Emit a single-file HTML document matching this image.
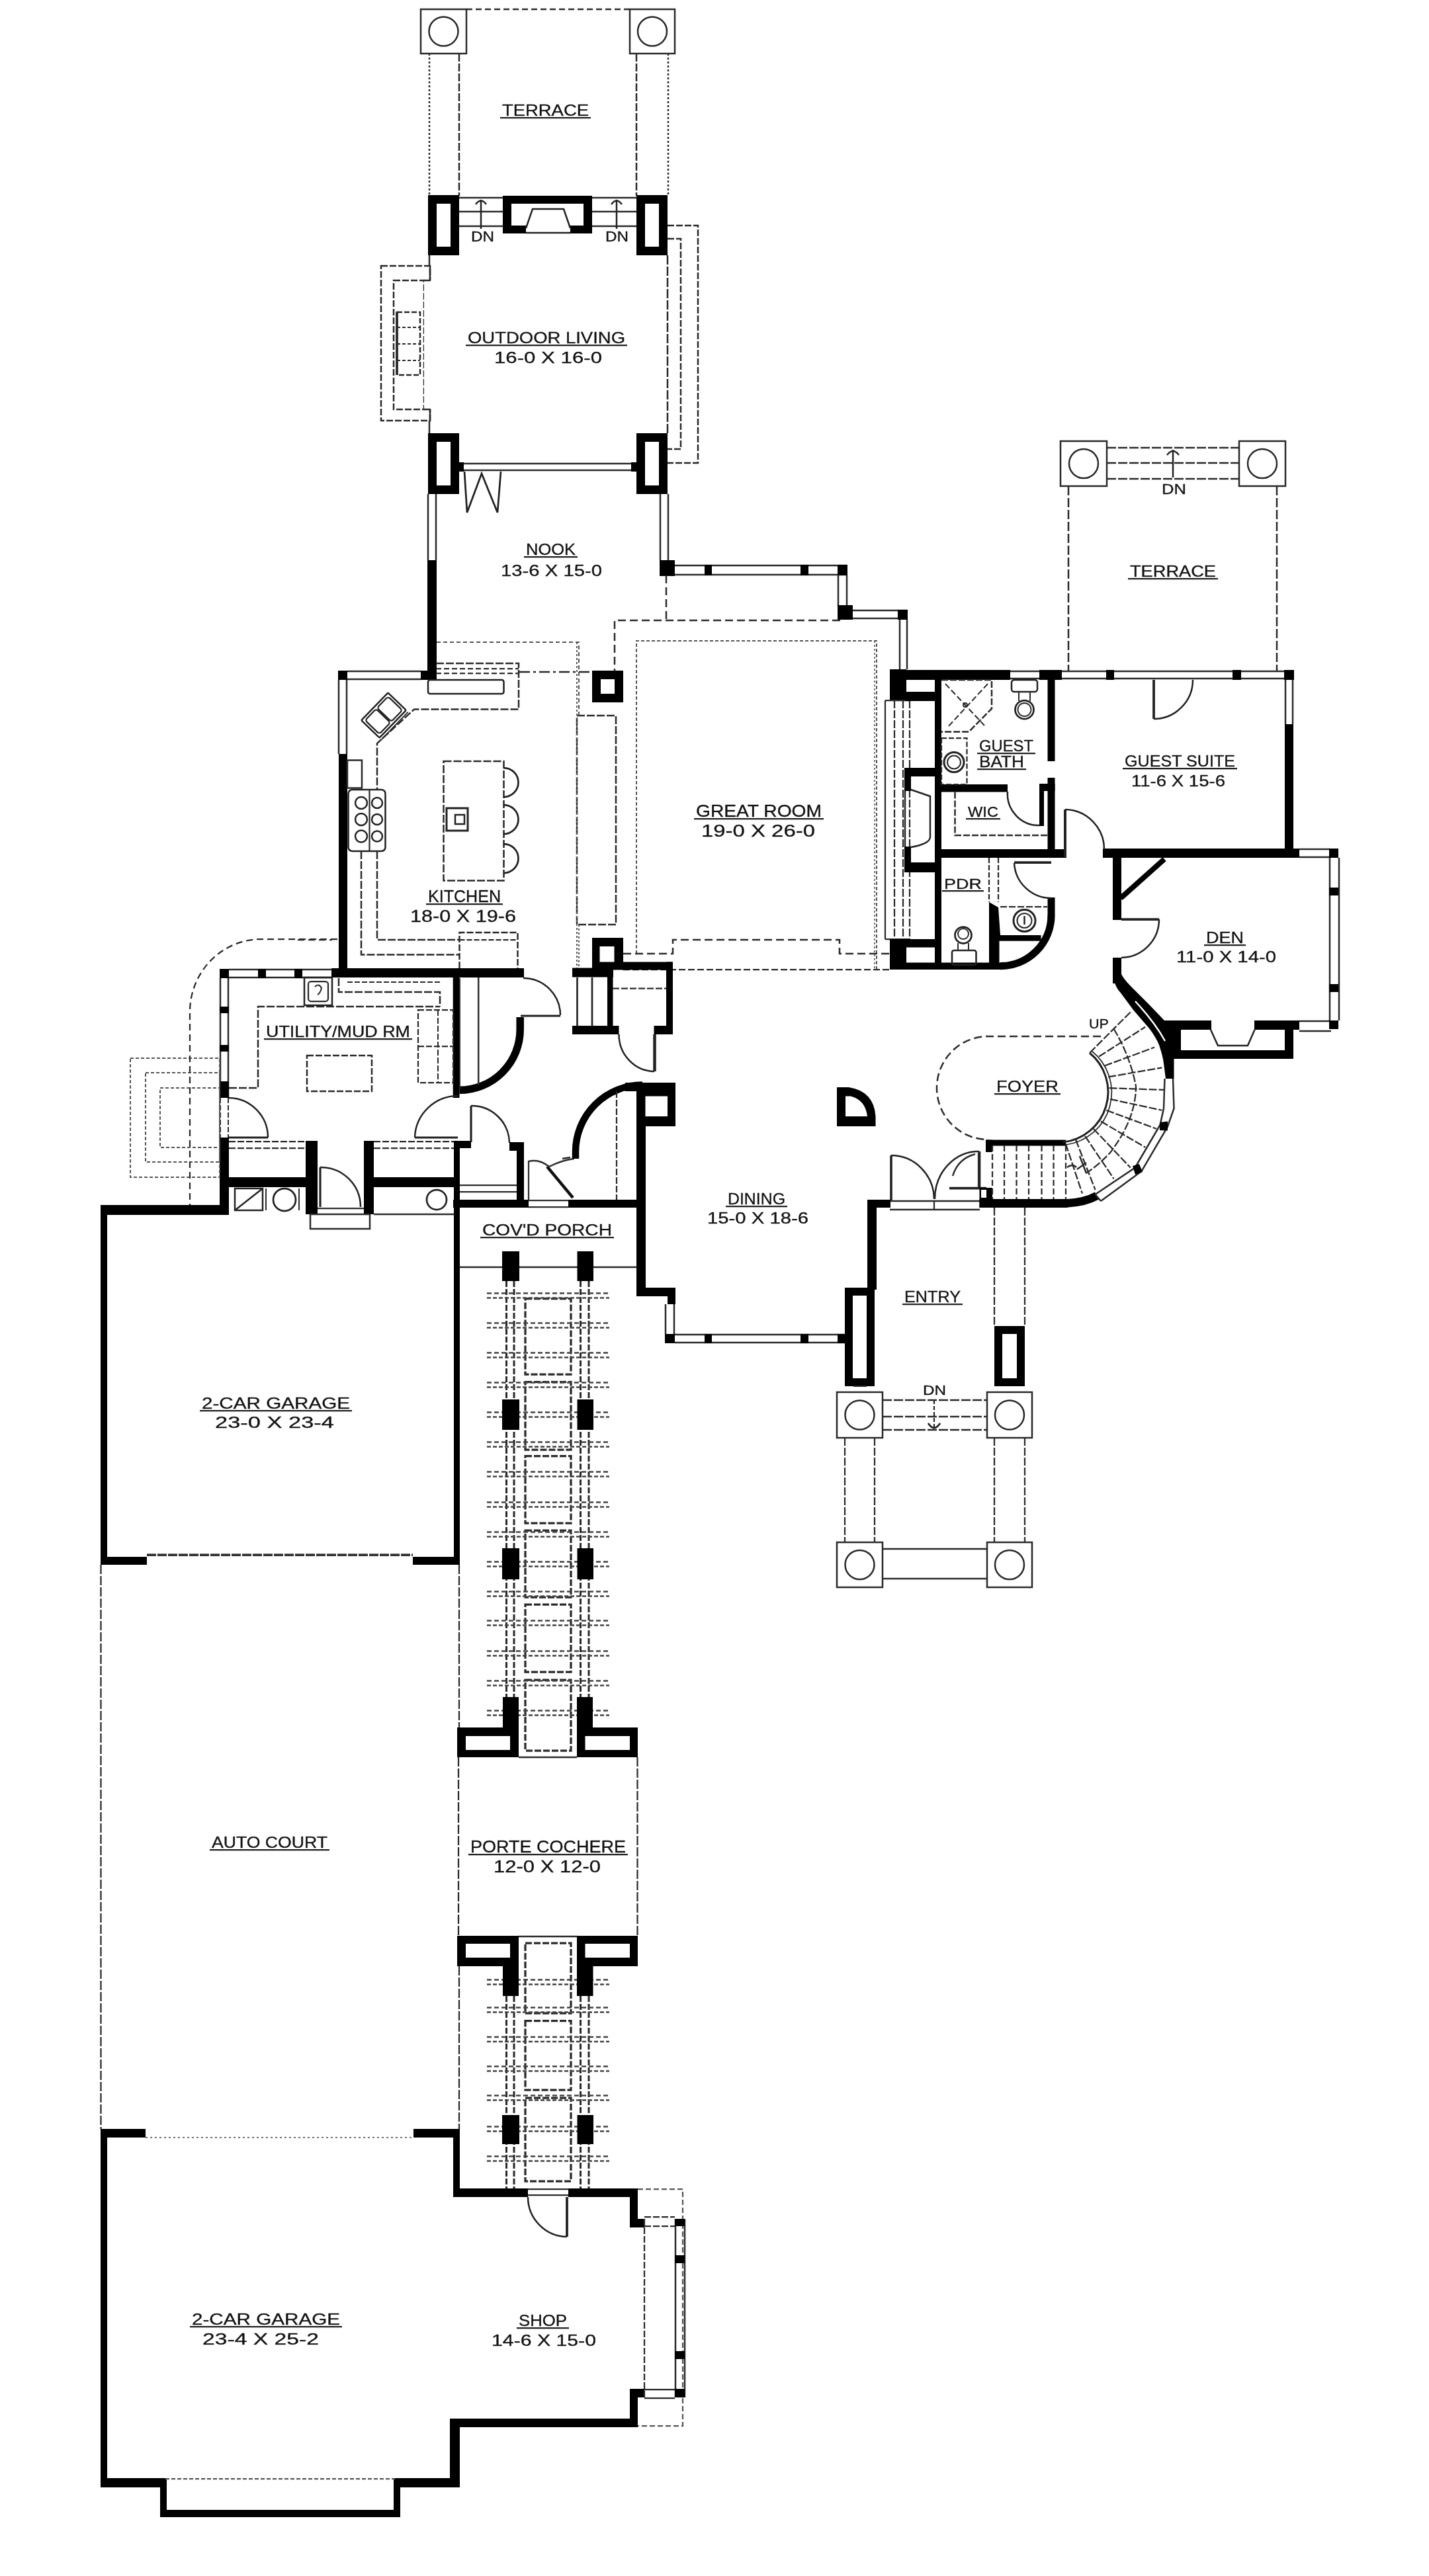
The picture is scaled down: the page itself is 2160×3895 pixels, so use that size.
<!DOCTYPE html>
<html><head><meta charset="utf-8"><title>Floor Plan</title>
<style>
html,body{margin:0;padding:0;background:#fff;}
body{width:2160px;height:3895px;overflow:hidden;font-family:"Liberation Sans",sans-serif;}
svg{display:block;filter:blur(0.7px);}
text{font-family:"Liberation Sans",sans-serif;fill:#111;}
</style></head><body>
<svg width="2160" height="3895" viewBox="0 0 2160 3895">
<rect x="0" y="0" width="2160" height="3895" fill="#fff"/>
<rect x="636" y="14" width="69" height="67" fill="none" stroke="#2a2a2a" stroke-width="2.5" rx="0"/>
<circle cx="670.5" cy="47.5" r="22" fill="none" stroke="#2a2a2a" stroke-width="2.5"/>
<rect x="952" y="14" width="68" height="67" fill="none" stroke="#2a2a2a" stroke-width="2.5" rx="0"/>
<circle cx="986" cy="47.5" r="22" fill="none" stroke="#2a2a2a" stroke-width="2.5"/>
<line x1="705" y1="14" x2="952" y2="14" stroke="#2a2a2a" stroke-width="2.5" stroke-dasharray="9 5"/>
<line x1="649" y1="81" x2="649" y2="296" stroke="#2a2a2a" stroke-width="2.5" stroke-dasharray="3 3"/>
<line x1="694" y1="81" x2="694" y2="296" stroke="#2a2a2a" stroke-width="2.5" stroke-dasharray="12 3"/>
<line x1="962" y1="81" x2="962" y2="296" stroke="#2a2a2a" stroke-width="2.5" stroke-dasharray="12 3"/>
<line x1="1010" y1="81" x2="1010" y2="296" stroke="#2a2a2a" stroke-width="2.5" stroke-dasharray="3 3"/>
<text x="759" y="174.5" font-size="23.52" textLength="131" lengthAdjust="spacingAndGlyphs" stroke="#222" stroke-width="0.35">TERRACE</text>
<line x1="756" y1="178" x2="893" y2="178" stroke="#222" stroke-width="2.25"/>
<rect x="647" y="295" width="47" height="91" fill="#000"/>
<rect x="660" y="308" width="21" height="65" fill="#fff"/>
<rect x="962" y="295" width="47" height="91" fill="#000"/>
<rect x="975" y="308" width="21" height="65" fill="#fff"/>
<rect x="760" y="296" width="135" height="57" fill="#000"/>
<rect x="773" y="308" width="109" height="33" fill="#fff"/>
<rect x="795" y="341" width="67" height="12" fill="#fff"/>
<path d="M795 345 L805 316 L852 316 L862 345" stroke="#222" stroke-width="2.5" fill="none" />
<line x1="795" y1="352" x2="862" y2="352" stroke="#222" stroke-width="2.5"/>
<line x1="694" y1="299" x2="760" y2="299" stroke="#2a2a2a" stroke-width="2.5"/>
<line x1="895" y1="299" x2="962" y2="299" stroke="#2a2a2a" stroke-width="2.5"/>
<line x1="694" y1="320" x2="760" y2="320" stroke="#2a2a2a" stroke-width="2.5"/>
<line x1="895" y1="320" x2="962" y2="320" stroke="#2a2a2a" stroke-width="2.5"/>
<line x1="694" y1="342" x2="760" y2="342" stroke="#2a2a2a" stroke-width="2.5"/>
<line x1="895" y1="342" x2="962" y2="342" stroke="#2a2a2a" stroke-width="2.5"/>
<line x1="727" y1="346" x2="727" y2="302" stroke="#222" stroke-width="2.5"/>
<path d="M719 309 Q727 298 735 309" stroke="#222" stroke-width="2.5" fill="none" />
<line x1="932" y1="346" x2="932" y2="302" stroke="#222" stroke-width="2.5"/>
<path d="M924 309 Q932 298 940 309" stroke="#222" stroke-width="2.5" fill="none" />
<text x="712" y="364.5" font-size="21.28" textLength="35" lengthAdjust="spacingAndGlyphs" stroke="#222" stroke-width="0.35">DN</text>
<text x="915" y="364.5" font-size="21.28" textLength="35" lengthAdjust="spacingAndGlyphs" stroke="#222" stroke-width="0.35">DN</text>
<line x1="649" y1="386" x2="649" y2="402" stroke="#2a2a2a" stroke-width="2.5"/>
<line x1="649" y1="636" x2="649" y2="655" stroke="#2a2a2a" stroke-width="2.5"/>
<line x1="1009" y1="386" x2="1009" y2="655" stroke="#2a2a2a" stroke-width="2.5" stroke-dasharray="14 3"/>
<rect x="576" y="402" width="74" height="234" fill="none" stroke="#2a2a2a" stroke-width="2.5" rx="0" stroke-dasharray="10 3"/>
<rect x="595" y="424" width="46" height="195" fill="#fff" stroke="#2a2a2a" stroke-width="2.5" rx="0" stroke-dasharray="10 3"/>
<rect x="641" y="425" width="11" height="193" fill="#fff"/>
<line x1="641" y1="424" x2="650" y2="424" stroke="#2a2a2a" stroke-width="2.5"/>
<line x1="641" y1="619" x2="650" y2="619" stroke="#2a2a2a" stroke-width="2.5"/>
<line x1="650" y1="402" x2="650" y2="424" stroke="#2a2a2a" stroke-width="2.5"/>
<line x1="650" y1="619" x2="650" y2="636" stroke="#2a2a2a" stroke-width="2.5"/>
<rect x="600" y="472" width="35" height="95" fill="none" stroke="#2a2a2a" stroke-width="2.5" rx="0" stroke-dasharray="8 3"/>
<line x1="600" y1="495" x2="635" y2="495" stroke="#2a2a2a" stroke-width="2" stroke-dasharray="5 3"/>
<line x1="600" y1="520" x2="635" y2="520" stroke="#2a2a2a" stroke-width="2" stroke-dasharray="5 3"/>
<line x1="600" y1="545" x2="635" y2="545" stroke="#2a2a2a" stroke-width="2" stroke-dasharray="5 3"/>
<line x1="600" y1="472" x2="600" y2="567" stroke="#2a2a2a" stroke-width="3.75"/>
<path d="M1009 341 H1055 V700 H1009" stroke="#2a2a2a" stroke-width="2.5" fill="none" stroke-dasharray="10 3" />
<path d="M1009 361 H1029 V679 H1009" stroke="#2a2a2a" stroke-width="2.5" fill="none" stroke-dasharray="10 3" />
<text x="707" y="518.5" font-size="24.64" textLength="238" lengthAdjust="spacingAndGlyphs" stroke="#222" stroke-width="0.35">OUTDOOR LIVING</text>
<line x1="704" y1="522" x2="948" y2="522" stroke="#222" stroke-width="2.25"/>
<text x="747" y="548.5" font-size="24.64" textLength="163" lengthAdjust="spacingAndGlyphs" stroke="#222" stroke-width="0.35">16-0 X 16-0</text>
<rect x="647" y="655" width="47" height="92" fill="#000"/>
<rect x="660" y="668" width="21" height="66" fill="#fff"/>
<rect x="962" y="655" width="47" height="92" fill="#000"/>
<rect x="975" y="668" width="21" height="66" fill="#fff"/>
<line x1="694" y1="701" x2="962" y2="701" stroke="#2a2a2a" stroke-width="2.5"/>
<line x1="694" y1="711" x2="962" y2="711" stroke="#2a2a2a" stroke-width="2.5"/>
<rect x="694" y="699" width="7" height="14" fill="#000"/>
<rect x="954" y="699" width="8" height="14" fill="#000"/>
<path d="M702 713 L706 775 L728 716 L752 775 L757 713" stroke="#222" stroke-width="2.75" fill="none" />
<line x1="647" y1="747" x2="647" y2="847" stroke="#2a2a2a" stroke-width="2.5"/>
<line x1="659" y1="747" x2="659" y2="847" stroke="#2a2a2a" stroke-width="2.5"/>
<rect x="646" y="847" width="14" height="180" fill="#000"/>
<line x1="998" y1="747" x2="998" y2="847" stroke="#2a2a2a" stroke-width="2.5"/>
<line x1="1010" y1="747" x2="1010" y2="847" stroke="#2a2a2a" stroke-width="2.5"/>
<rect x="997" y="847" width="23" height="24" fill="#000"/>
<text x="795" y="838.5" font-size="24.64" textLength="75" lengthAdjust="spacingAndGlyphs" stroke="#222" stroke-width="0.35">NOOK</text>
<line x1="792" y1="842" x2="873" y2="842" stroke="#222" stroke-width="2.25"/>
<text x="757" y="870.5" font-size="24.64" textLength="153" lengthAdjust="spacingAndGlyphs" stroke="#222" stroke-width="0.35">13-6 X 15-0</text>
<rect x="511" y="1014" width="14" height="14" fill="#000"/>
<line x1="525" y1="1015" x2="636" y2="1015" stroke="#2a2a2a" stroke-width="2.5"/>
<line x1="525" y1="1027" x2="636" y2="1027" stroke="#2a2a2a" stroke-width="2.5"/>
<rect x="636" y="1014" width="24" height="14" fill="#000"/>
<line x1="512" y1="1028" x2="512" y2="1140" stroke="#2a2a2a" stroke-width="2.5"/>
<line x1="524" y1="1028" x2="524" y2="1140" stroke="#2a2a2a" stroke-width="2.5"/>
<rect x="512" y="1140" width="13" height="338" fill="#000"/>
<rect x="501" y="1464" width="291" height="14" fill="#000"/>
<path d="M659 1003 H784 V1072.5 H626 L570 1124 V1194" stroke="#2a2a2a" stroke-width="2.5" fill="none" stroke-dasharray="12 3" />
<line x1="659" y1="1011" x2="784" y2="1011" stroke="#2a2a2a" stroke-width="2.25" stroke-dasharray="8 4"/>
<line x1="659" y1="1018" x2="784" y2="1018" stroke="#2a2a2a" stroke-width="2.25" stroke-dasharray="8 4"/>
<rect x="647" y="1028" width="114.5" height="21" fill="none" stroke="#222" stroke-width="2.5" rx="3"/>
<g transform="translate(580 1081.5) rotate(-46)">
<rect x="-29" y="-19" width="58" height="38" fill="none" stroke="#222" stroke-width="2.5" rx="2"/>
<rect x="-25" y="-15" width="24" height="30" fill="none" stroke="#222" stroke-width="2.25" rx="4"/>
<rect x="1" y="-15" width="24" height="30" fill="none" stroke="#222" stroke-width="2.25" rx="4"/>
<line x1="-29" y1="23" x2="29" y2="23" stroke="#2a2a2a" stroke-width="2"/>
</g>
<rect x="525" y="1149.5" width="22" height="42" fill="none" stroke="#2a2a2a" stroke-width="2.5" rx="0"/>
<rect x="526.5" y="1194" width="56" height="93" fill="none" stroke="#222" stroke-width="2.5" rx="6"/>
<line x1="558.5" y1="1194" x2="558.5" y2="1287" stroke="#2a2a2a" stroke-width="2.25"/>
<circle cx="546" cy="1214" r="9" fill="none" stroke="#222" stroke-width="2.5"/>
<circle cx="570" cy="1214" r="8" fill="none" stroke="#222" stroke-width="2.5"/>
<circle cx="546" cy="1239" r="9" fill="none" stroke="#222" stroke-width="2.5"/>
<circle cx="570" cy="1239" r="8" fill="none" stroke="#222" stroke-width="2.5"/>
<circle cx="546" cy="1264.5" r="9" fill="none" stroke="#222" stroke-width="2.5"/>
<circle cx="570" cy="1264.5" r="8" fill="none" stroke="#222" stroke-width="2.5"/>
<path d="M546 1287 V1443.5 H694" stroke="#2a2a2a" stroke-width="2.5" fill="none" stroke-dasharray="12 3" />
<path d="M570 1287 V1421 H694" stroke="#2a2a2a" stroke-width="2.5" fill="none" stroke-dasharray="12 3" />
<path d="M694.5 1464 V1410 H782.5 V1464" stroke="#2a2a2a" stroke-width="2.5" fill="none" stroke-dasharray="10 3" />
<line x1="694.5" y1="1421" x2="782.5" y2="1421" stroke="#2a2a2a" stroke-width="2.25" stroke-dasharray="8 3"/>
<rect x="670.5" y="1151" width="91" height="180.5" fill="none" stroke="#2a2a2a" stroke-width="2.5" rx="0" stroke-dasharray="12 3"/>
<rect x="675" y="1222" width="32" height="34" fill="none" stroke="#222" stroke-width="3" rx="0"/>
<rect x="688" y="1232" width="14" height="14" fill="none" stroke="#222" stroke-width="2.5" rx="0"/>
<path d="M761.5 1161 A22 22 0 0 1 761.5 1205" stroke="#222" stroke-width="2.75" fill="none" />
<path d="M761.5 1217 A22 22 0 0 1 761.5 1261" stroke="#222" stroke-width="2.75" fill="none" />
<path d="M761.5 1276 A22 22 0 0 1 761.5 1320" stroke="#222" stroke-width="2.75" fill="none" />
<text x="647" y="1363.5" font-size="25.76" textLength="110" lengthAdjust="spacingAndGlyphs" stroke="#222" stroke-width="0.35">KITCHEN</text>
<line x1="644" y1="1367" x2="760" y2="1367" stroke="#222" stroke-width="2.25"/>
<text x="620" y="1393.5" font-size="25.76" textLength="160" lengthAdjust="spacingAndGlyphs" stroke="#222" stroke-width="0.35">18-0 X 19-6</text>
<rect x="872" y="1082" width="59" height="316" fill="none" stroke="#2a2a2a" stroke-width="2.5" rx="0" stroke-dasharray="12 3"/>
<line x1="872" y1="971" x2="872" y2="1465" stroke="#555" stroke-width="2" stroke-dasharray="3 3"/>
<path d="M660 971 H875 V1082" stroke="#555" stroke-width="2" fill="none" stroke-dasharray="6 4" />
<line x1="785" y1="1016" x2="895" y2="1016" stroke="#2a2a2a" stroke-width="2.5" stroke-dasharray="16 5 4 5"/>
<rect x="895" y="1014" width="47" height="48" fill="#000"/>
<rect x="908" y="1027" width="21" height="22" fill="#fff"/>
<rect x="895" y="1418" width="47" height="48.5" fill="#000"/>
<rect x="906.5" y="1431" width="22" height="23.5" fill="#fff"/>
<line x1="1020" y1="855" x2="1280" y2="855" stroke="#2a2a2a" stroke-width="2.5"/>
<line x1="1020" y1="869" x2="1280" y2="869" stroke="#2a2a2a" stroke-width="2.5"/>
<rect x="1065" y="854" width="11" height="16" fill="#000"/>
<rect x="1210" y="854" width="12" height="16" fill="#000"/>
<rect x="1266" y="854" width="15" height="16" fill="#000"/>
<line x1="1267" y1="870" x2="1267" y2="917" stroke="#2a2a2a" stroke-width="2.5"/>
<line x1="1280" y1="870" x2="1280" y2="917" stroke="#2a2a2a" stroke-width="2.5"/>
<rect x="1266" y="915" width="23" height="22" fill="#000"/>
<line x1="1289" y1="923" x2="1372" y2="923" stroke="#2a2a2a" stroke-width="2.5"/>
<line x1="1289" y1="935" x2="1372" y2="935" stroke="#2a2a2a" stroke-width="2.5"/>
<rect x="1357" y="922" width="15" height="15" fill="#000"/>
<line x1="1360" y1="937" x2="1360" y2="1012" stroke="#2a2a2a" stroke-width="2.5"/>
<line x1="1371" y1="937" x2="1371" y2="1012" stroke="#2a2a2a" stroke-width="2.5"/>
<rect x="1345" y="1012" width="25" height="47" fill="#000"/>
<line x1="1007" y1="870" x2="1007" y2="937" stroke="#2a2a2a" stroke-width="2.5" stroke-dasharray="12 6"/>
<path d="M1270 938 H929 V1015" stroke="#2a2a2a" stroke-width="2.5" fill="none" stroke-dasharray="12 6" />
<path d="M962 1442 V969 H1325 V1465" stroke="#555" stroke-width="2" fill="none" stroke-dasharray="5 3" />
<path d="M942 1442 H1017 V1421 H1269 V1442 H1345" stroke="#2a2a2a" stroke-width="2.5" fill="none" stroke-dasharray="12 6" />
<line x1="942" y1="1466" x2="1345" y2="1466" stroke="#2a2a2a" stroke-width="2.25" stroke-dasharray="10 4"/>
<line x1="1338" y1="1059" x2="1338" y2="1420" stroke="#2a2a2a" stroke-width="2.25"/>
<line x1="1352" y1="1059" x2="1352" y2="1420" stroke="#2a2a2a" stroke-width="2.25" stroke-dasharray="12 3"/>
<line x1="1365" y1="1059" x2="1365" y2="1420" stroke="#2a2a2a" stroke-width="2.25" stroke-dasharray="12 3"/>
<line x1="1375" y1="1059" x2="1375" y2="1420" stroke="#2a2a2a" stroke-width="2.25" stroke-dasharray="12 3"/>
<line x1="1338" y1="1059" x2="1375" y2="1059" stroke="#2a2a2a" stroke-width="2.25"/>
<line x1="1338" y1="1420" x2="1375" y2="1420" stroke="#2a2a2a" stroke-width="2.25"/>
<line x1="1322" y1="969" x2="1322" y2="1465" stroke="#666" stroke-width="1.75" stroke-dasharray="3 3"/>
<rect x="1345" y="1420" width="25" height="46" fill="#000"/>
<rect x="1367" y="1161" width="48" height="13" fill="#000"/>
<rect x="1367" y="1161" width="10" height="35" fill="#000"/>
<rect x="1367" y="1280" width="10" height="39" fill="#000"/>
<rect x="1367" y="1304" width="48" height="15" fill="#000"/>
<line x1="1368" y1="1196" x2="1368" y2="1280" stroke="#2a2a2a" stroke-width="2.5"/>
<path d="M1377 1194 L1406 1204 V1266 Q1405 1276 1377 1281" stroke="#222" stroke-width="2.5" fill="none" />
<rect x="1367" y="1420" width="47" height="12.5" fill="#000"/>
<text x="1052" y="1234.5" font-size="25.76" textLength="190" lengthAdjust="spacingAndGlyphs" stroke="#222" stroke-width="0.35">GREAT ROOM</text>
<line x1="1049" y1="1238" x2="1245" y2="1238" stroke="#222" stroke-width="2.25"/>
<text x="1060" y="1264.5" font-size="25.76" textLength="172" lengthAdjust="spacingAndGlyphs" stroke="#222" stroke-width="0.35">19-0 X 26-0</text>
<rect x="1345" y="1013" width="182" height="15" fill="#000"/>
<line x1="1527" y1="1015" x2="1571" y2="1015" stroke="#2a2a2a" stroke-width="2.5"/>
<line x1="1527" y1="1026" x2="1571" y2="1026" stroke="#2a2a2a" stroke-width="2.5"/>
<rect x="1571" y="1013" width="34" height="15" fill="#000"/>
<line x1="1605" y1="1015" x2="1942" y2="1015" stroke="#2a2a2a" stroke-width="2.5"/>
<line x1="1605" y1="1026" x2="1942" y2="1026" stroke="#2a2a2a" stroke-width="2.5"/>
<rect x="1672" y="1013" width="12" height="15" fill="#000"/>
<rect x="1863" y="1013" width="13" height="15" fill="#000"/>
<rect x="1941" y="1013" width="15" height="15" fill="#000"/>
<rect x="1368" y="1046" width="46" height="14" fill="#000"/>
<rect x="1413" y="1013" width="10" height="453" fill="#000"/>
<rect x="1583.5" y="1028" width="11" height="123" fill="#000"/>
<rect x="1583.5" y="1176" width="11" height="120" fill="#000"/>
<rect x="1571" y="1185" width="23.5" height="11" fill="#000"/>
<rect x="1571" y="1185" width="7" height="64" fill="#000"/>
<rect x="1421" y="1186" width="102" height="11.5" fill="#000"/>
<rect x="1419" y="1284" width="193" height="13" fill="#000"/>
<path d="M1423 1028 H1499 V1071.5 L1464.5 1106.5 H1423" stroke="#2a2a2a" stroke-width="2.5" fill="none" stroke-dasharray="10 3" />
<line x1="1429" y1="1034" x2="1488" y2="1097" stroke="#2a2a2a" stroke-width="2" stroke-dasharray="9 4"/>
<line x1="1493" y1="1034" x2="1432" y2="1100" stroke="#2a2a2a" stroke-width="2" stroke-dasharray="9 4"/>
<circle cx="1459" cy="1066" r="3" fill="none" stroke="#2a2a2a" stroke-width="1.875"/>
<rect x="1529" y="1028" width="39" height="18" fill="none" stroke="#222" stroke-width="2.5" rx="4"/>
<circle cx="1548.5" cy="1073" r="14" fill="none" stroke="#222" stroke-width="2.75"/>
<circle cx="1548.5" cy="1073" r="10" fill="none" stroke="#2a2a2a" stroke-width="1.875"/>
<line x1="1540" y1="1046" x2="1540" y2="1060" stroke="#2a2a2a" stroke-width="2"/>
<line x1="1557" y1="1046" x2="1557" y2="1060" stroke="#2a2a2a" stroke-width="2"/>
<rect x="1423" y="1116" width="38.5" height="70" fill="none" stroke="#2a2a2a" stroke-width="2.25" rx="0" stroke-dasharray="8 3"/>
<circle cx="1442" cy="1152.5" r="15" fill="none" stroke="#222" stroke-width="3"/>
<circle cx="1442" cy="1152.5" r="10" fill="none" stroke="#2a2a2a" stroke-width="2"/>
<text x="1480" y="1135.5" font-size="24.64" textLength="82" lengthAdjust="spacingAndGlyphs" stroke="#222" stroke-width="0.35">GUEST</text>
<line x1="1477" y1="1139" x2="1565" y2="1139" stroke="#222" stroke-width="2.25"/>
<text x="1480" y="1159.5" font-size="24.64" textLength="68" lengthAdjust="spacingAndGlyphs" stroke="#222" stroke-width="0.35">BATH</text>
<line x1="1477" y1="1163" x2="1551" y2="1163" stroke="#222" stroke-width="2.25"/>
<path d="M1443.5 1197.5 V1263 H1583" stroke="#2a2a2a" stroke-width="2.5" fill="none" stroke-dasharray="10 3" />
<path d="M1523 1197 A47.5 47.5 0 0 0 1571 1248" stroke="#222" stroke-width="2.5" fill="none" />
<text x="1463" y="1234.5" font-size="22.4" textLength="46" lengthAdjust="spacingAndGlyphs" stroke="#222" stroke-width="0.35">WIC</text>
<line x1="1460" y1="1238" x2="1512" y2="1238" stroke="#222" stroke-width="2.25"/>
<text x="1427" y="1343.5" font-size="22.4" textLength="57" lengthAdjust="spacingAndGlyphs" stroke="#222" stroke-width="0.35">PDR</text>
<line x1="1424" y1="1347" x2="1487" y2="1347" stroke="#222" stroke-width="2.25"/>
<line x1="1495" y1="1297" x2="1495" y2="1364" stroke="#2a2a2a" stroke-width="2.25" stroke-dasharray="8 3"/>
<line x1="1509" y1="1297" x2="1509" y2="1364" stroke="#2a2a2a" stroke-width="2.25" stroke-dasharray="8 3"/>
<polygon points="1495,1364 1509,1372 1512,1414 1573.5,1414 1573.5,1422.7 1510.5,1422.7 1510.5,1462 1495,1462" fill="#000"/>
<rect x="1345" y="1455.5" width="167" height="10.5" fill="#000"/>
<rect x="1583.5" y="1357" width="11" height="27" fill="#000"/>
<path d="M1589 1383.5 A77 77 0 0 1 1512 1460.7" stroke="#000" stroke-width="11.2" fill="none" />
<line x1="1512" y1="1371" x2="1583" y2="1371" stroke="#2a2a2a" stroke-width="2.25" stroke-dasharray="10 3"/>
<circle cx="1548.5" cy="1392" r="16.5" fill="none" stroke="#222" stroke-width="3"/>
<circle cx="1548.5" cy="1392" r="11" fill="none" stroke="#2a2a2a" stroke-width="2"/>
<line x1="1548.5" y1="1385" x2="1548.5" y2="1398" stroke="#222" stroke-width="2.5"/>
<circle cx="1456" cy="1414" r="12.5" fill="none" stroke="#222" stroke-width="2.75"/>
<circle cx="1456" cy="1412" r="8" fill="none" stroke="#2a2a2a" stroke-width="2"/>
<rect x="1439" y="1437" width="36.5" height="22" fill="none" stroke="#222" stroke-width="2.5" rx="3"/>
<line x1="1448" y1="1426" x2="1448" y2="1437" stroke="#2a2a2a" stroke-width="2"/>
<line x1="1464" y1="1426" x2="1464" y2="1437" stroke="#2a2a2a" stroke-width="2"/>
<path d="M1533 1304 H1589" stroke="#222" stroke-width="3.75" fill="none" />
<path d="M1533 1305 A56 56 0 0 0 1589 1358" stroke="#222" stroke-width="2.5" fill="none" />
<line x1="1943" y1="1028" x2="1943" y2="1095" stroke="#2a2a2a" stroke-width="2.5"/>
<line x1="1954" y1="1028" x2="1954" y2="1095" stroke="#2a2a2a" stroke-width="2.5"/>
<rect x="1942" y="1095" width="13" height="202" fill="#000"/>
<rect x="1667" y="1283" width="297" height="14" fill="#000"/>
<line x1="1610" y1="1224" x2="1610" y2="1296" stroke="#222" stroke-width="4"/>
<path d="M1610 1224 A60 60 0 0 1 1669 1285" stroke="#222" stroke-width="2.5" fill="none" />
<line x1="1744" y1="1028" x2="1744" y2="1087" stroke="#222" stroke-width="3.75"/>
<path d="M1744 1087 A59 59 0 0 0 1803 1028" stroke="#222" stroke-width="2.5" fill="none" />
<text x="1700" y="1158.5" font-size="24.64" textLength="167" lengthAdjust="spacingAndGlyphs" stroke="#222" stroke-width="0.35">GUEST SUITE</text>
<line x1="1697" y1="1162" x2="1870" y2="1162" stroke="#222" stroke-width="2.25"/>
<text x="1710" y="1188.5" font-size="24.64" textLength="142" lengthAdjust="spacingAndGlyphs" stroke="#222" stroke-width="0.35">11-6 X 15-6</text>
<rect x="1603" y="667" width="70" height="68" fill="none" stroke="#2a2a2a" stroke-width="2.5" rx="0"/>
<circle cx="1638" cy="701" r="22" fill="none" stroke="#2a2a2a" stroke-width="2.5"/>
<rect x="1873" y="667" width="70" height="68" fill="none" stroke="#2a2a2a" stroke-width="2.5" rx="0"/>
<circle cx="1908" cy="701" r="22" fill="none" stroke="#2a2a2a" stroke-width="2.5"/>
<line x1="1673" y1="677" x2="1873" y2="677" stroke="#2a2a2a" stroke-width="2.5" stroke-dasharray="14 3"/>
<line x1="1673" y1="700" x2="1873" y2="700" stroke="#2a2a2a" stroke-width="2.5" stroke-dasharray="14 3"/>
<line x1="1673" y1="724" x2="1873" y2="724" stroke="#2a2a2a" stroke-width="2.5" stroke-dasharray="14 3"/>
<line x1="1773" y1="722" x2="1773" y2="680" stroke="#222" stroke-width="2.5"/>
<path d="M1764 688 Q1773 676 1782 688" stroke="#222" stroke-width="2.5" fill="none" />
<text x="1756" y="746.5" font-size="21.28" textLength="37" lengthAdjust="spacingAndGlyphs" stroke="#222" stroke-width="0.35">DN</text>
<line x1="1615" y1="735" x2="1615" y2="1014" stroke="#2a2a2a" stroke-width="2.5" stroke-dasharray="14 4"/>
<line x1="1930" y1="735" x2="1930" y2="1014" stroke="#2a2a2a" stroke-width="2.5" stroke-dasharray="14 4"/>
<text x="1708" y="871.5" font-size="23.52" textLength="130" lengthAdjust="spacingAndGlyphs" stroke="#222" stroke-width="0.35">TERRACE</text>
<line x1="1705" y1="875" x2="1841" y2="875" stroke="#222" stroke-width="2.25"/>
<rect x="1682" y="1297" width="13" height="94" fill="#000"/>
<line x1="1760" y1="1299" x2="1694" y2="1358" stroke="#000" stroke-width="8"/>
<line x1="1695" y1="1390" x2="1752" y2="1390" stroke="#222" stroke-width="3.75"/>
<path d="M1752 1390 A58 58 0 0 1 1695 1448" stroke="#222" stroke-width="2.5" fill="none" />
<rect x="1682" y="1448" width="13" height="39" fill="#000"/>
<path d="M1682 1475 C1685 1490 1690 1497 1693 1500 L1713 1527 L1738 1556 Q1748 1570 1752 1580 Q1758 1598 1759 1608 L1762 1631 H1774.5 V1601 L1772 1556 L1759 1542 L1738 1520 L1710 1492 Q1698 1480 1694.6 1472 Z" fill="#000"/>
<path d="M1716 1514 Q1745 1545 1761 1574" stroke="#fff" stroke-width="2.5" fill="none" />
<rect x="1760" y="1543" width="71" height="14" fill="#000"/>
<rect x="1896" y="1543" width="68" height="14" fill="#000"/>
<rect x="1772" y="1557" width="13" height="44" fill="#000"/>
<rect x="1772" y="1588" width="183" height="13" fill="#000"/>
<rect x="1942" y="1557" width="13" height="44" fill="#000"/>
<path d="M1830 1557 L1841 1581 H1886 L1896.5 1557" stroke="#222" stroke-width="2.5" fill="none" />
<line x1="1964" y1="1284" x2="2010" y2="1284" stroke="#2a2a2a" stroke-width="2.5"/>
<line x1="1964" y1="1296" x2="2010" y2="1296" stroke="#2a2a2a" stroke-width="2.5"/>
<rect x="2009" y="1283" width="14" height="14" fill="#000"/>
<line x1="2010" y1="1297" x2="2010" y2="1543" stroke="#2a2a2a" stroke-width="2.5"/>
<line x1="2024" y1="1297" x2="2024" y2="1543" stroke="#2a2a2a" stroke-width="2.5"/>
<rect x="2009" y="1342" width="14" height="12" fill="#000"/>
<rect x="2009" y="1488" width="14" height="12" fill="#000"/>
<rect x="2009" y="1543" width="14" height="13" fill="#000"/>
<path d="M1964 1544 H2009 M1964 1559 H2012" stroke="#2a2a2a" stroke-width="2.5" fill="none" />
<text x="1823" y="1425.5" font-size="24.64" textLength="57" lengthAdjust="spacingAndGlyphs" stroke="#222" stroke-width="0.35">DEN</text>
<line x1="1820" y1="1429" x2="1883" y2="1429" stroke="#222" stroke-width="2.25"/>
<text x="1778" y="1454.5" font-size="24.64" textLength="151" lengthAdjust="spacingAndGlyphs" stroke="#222" stroke-width="0.35">11-0 X 14-0</text>
<rect x="941" y="1454.5" width="76" height="12" fill="#000"/>
<rect x="1007" y="1454.5" width="10" height="109.5" fill="#000"/>
<rect x="988.5" y="1551" width="28.5" height="13" fill="#000"/>
<rect x="865" y="1463.5" width="62" height="14" fill="#000"/>
<rect x="918" y="1455" width="8.5" height="109" fill="#000"/>
<rect x="865" y="1551" width="70.5" height="13" fill="#000"/>
<line x1="872.5" y1="1478" x2="872.5" y2="1551" stroke="#2a2a2a" stroke-width="2.75"/>
<line x1="895" y1="1478" x2="895" y2="1551" stroke="#2a2a2a" stroke-width="2.75"/>
<line x1="926" y1="1494.5" x2="1007" y2="1494.5" stroke="#2a2a2a" stroke-width="2.25" stroke-dasharray="10 3"/>
<line x1="989.5" y1="1564" x2="989.5" y2="1620" stroke="#222" stroke-width="4.5"/>
<path d="M935.5 1564 A54 56 0 0 0 989 1620" stroke="#222" stroke-width="2.5" fill="none" />
<line x1="875" y1="1398" x2="875" y2="1464" stroke="#555" stroke-width="2" stroke-dasharray="3 3"/>
<rect x="332" y="1465" width="14" height="14" fill="#000"/>
<line x1="346" y1="1466" x2="502" y2="1466" stroke="#2a2a2a" stroke-width="2.5"/>
<line x1="346" y1="1478" x2="502" y2="1478" stroke="#2a2a2a" stroke-width="2.5"/>
<rect x="390" y="1465" width="12" height="14" fill="#000"/>
<rect x="445" y="1465" width="12" height="14" fill="#000"/>
<line x1="333" y1="1479" x2="333" y2="1660" stroke="#2a2a2a" stroke-width="2.5"/>
<line x1="345" y1="1479" x2="345" y2="1660" stroke="#2a2a2a" stroke-width="2.5"/>
<rect x="332" y="1522" width="14" height="10" fill="#000"/>
<rect x="332" y="1580" width="14" height="10" fill="#000"/>
<rect x="332" y="1635" width="14" height="25" fill="#000"/>
<line x1="346" y1="1720" x2="405" y2="1720" stroke="#222" stroke-width="3.125"/>
<path d="M346 1660 A60 60 0 0 1 405 1720" stroke="#222" stroke-width="2.5" fill="none" />
<line x1="333" y1="1660" x2="333" y2="1720" stroke="#2a2a2a" stroke-width="2" stroke-dasharray="8 3"/>
<line x1="345" y1="1660" x2="345" y2="1720" stroke="#2a2a2a" stroke-width="2" stroke-dasharray="8 3"/>
<rect x="332" y="1720" width="14" height="116" fill="#000"/>
<rect x="332" y="1780" width="148" height="15" fill="#000"/>
<rect x="462" y="1725" width="18" height="111" fill="#000"/>
<rect x="550" y="1725" width="15" height="111" fill="#000"/>
<rect x="550" y="1780" width="142" height="15" fill="#000"/>
<line x1="346" y1="1726" x2="462" y2="1726" stroke="#2a2a2a" stroke-width="2.25" stroke-dasharray="10 3"/>
<line x1="346" y1="1736" x2="462" y2="1736" stroke="#2a2a2a" stroke-width="2.25" stroke-dasharray="10 3"/>
<line x1="565" y1="1726" x2="686" y2="1726" stroke="#2a2a2a" stroke-width="2.25" stroke-dasharray="10 3"/>
<line x1="565" y1="1736" x2="686" y2="1736" stroke="#2a2a2a" stroke-width="2.25" stroke-dasharray="10 3"/>
<rect x="684.7" y="1478" width="9.8" height="182" fill="#000"/>
<rect x="686" y="1725" width="9" height="641" fill="#000"/>
<path d="M346 1645 H390 V1522 H665" stroke="#2a2a2a" stroke-width="2.5" fill="none" stroke-dasharray="12 3" />
<path d="M512 1479 V1500 H665 V1522" stroke="#2a2a2a" stroke-width="2.5" fill="none" stroke-dasharray="12 3" />
<line x1="525" y1="1485" x2="665" y2="1485" stroke="#2a2a2a" stroke-width="2" stroke-dasharray="8 3"/>
<rect x="460" y="1478" width="42" height="42" fill="none" stroke="#222" stroke-width="2.5" rx="0"/>
<rect x="466" y="1484" width="30" height="30" fill="none" stroke="#2a2a2a" stroke-width="2.25" rx="4"/>
<path d="M476 1492 q6 -6 10 2 q-2 8 -6 10" stroke="#2a2a2a" stroke-width="2" fill="none" />
<rect x="632" y="1527" width="53" height="110" fill="none" stroke="#2a2a2a" stroke-width="2.25" rx="0" stroke-dasharray="9 3"/>
<line x1="632" y1="1582" x2="685" y2="1582" stroke="#2a2a2a" stroke-width="2.25" stroke-dasharray="9 3"/>
<line x1="662" y1="1527" x2="662" y2="1637" stroke="#2a2a2a" stroke-width="2" stroke-dasharray="9 3"/>
<rect x="464" y="1596" width="98" height="54" fill="none" stroke="#2a2a2a" stroke-width="2.5" rx="0" stroke-dasharray="10 3"/>
<text x="402" y="1567.5" font-size="23.52" textLength="218" lengthAdjust="spacingAndGlyphs" stroke="#222" stroke-width="0.35">UTILITY/MUD RM</text>
<line x1="399" y1="1571" x2="623" y2="1571" stroke="#222" stroke-width="2.25"/>
<rect x="355" y="1797" width="42" height="33" fill="none" stroke="#222" stroke-width="2.5" rx="0"/>
<line x1="355" y1="1830" x2="397" y2="1797" stroke="#222" stroke-width="2.5"/>
<circle cx="430" cy="1814" r="17" fill="none" stroke="#222" stroke-width="2.75"/>
<line x1="402" y1="1797" x2="402" y2="1830" stroke="#2a2a2a" stroke-width="2"/>
<line x1="452" y1="1797" x2="452" y2="1830" stroke="#2a2a2a" stroke-width="2"/>
<line x1="484" y1="1765" x2="484" y2="1825" stroke="#222" stroke-width="3.125"/>
<path d="M484 1765 A60 60 0 0 1 545 1825" stroke="#222" stroke-width="2.5" fill="none" />
<line x1="480" y1="1827" x2="550" y2="1827" stroke="#2a2a2a" stroke-width="2.25"/>
<rect x="469" y="1836" width="90" height="22" fill="none" stroke="#2a2a2a" stroke-width="2.5" rx="0"/>
<circle cx="660" cy="1814" r="15" fill="none" stroke="#222" stroke-width="2.75"/>
<line x1="565" y1="1836" x2="686" y2="1836" stroke="#2a2a2a" stroke-width="2.5"/>
<rect x="152" y="1822" width="194" height="15" fill="#000"/>
<rect x="152" y="1822" width="10" height="544" fill="#000"/>
<rect x="152" y="2354" width="70" height="12" fill="#000"/>
<rect x="624" y="2354" width="71" height="12" fill="#000"/>
<line x1="222" y1="2351" x2="624" y2="2351" stroke="#333" stroke-width="3.75" stroke-dasharray="14 2"/>
<line x1="152.5" y1="2366" x2="152.5" y2="3219" stroke="#2a2a2a" stroke-width="2.25" stroke-dasharray="14 3"/>
<line x1="694" y1="2366" x2="694" y2="2612" stroke="#2a2a2a" stroke-width="2.25" stroke-dasharray="14 3"/>
<line x1="693" y1="2657" x2="693" y2="2927" stroke="#2a2a2a" stroke-width="2.25" stroke-dasharray="14 3"/>
<line x1="694" y1="2973" x2="694" y2="3219" stroke="#2a2a2a" stroke-width="2.25" stroke-dasharray="14 3"/>
<line x1="963.5" y1="2657" x2="963.5" y2="2927" stroke="#2a2a2a" stroke-width="2.25" stroke-dasharray="14 3"/>
<text x="305" y="2129.5" font-size="24.64" textLength="224" lengthAdjust="spacingAndGlyphs" stroke="#222" stroke-width="0.35">2-CAR GARAGE</text>
<line x1="302" y1="2133" x2="532" y2="2133" stroke="#222" stroke-width="2.25"/>
<text x="325" y="2158.5" font-size="24.64" textLength="180" lengthAdjust="spacingAndGlyphs" stroke="#222" stroke-width="0.35">23-0 X 23-4</text>
<text x="320" y="2793.5" font-size="24.64" textLength="175" lengthAdjust="spacingAndGlyphs" stroke="#222" stroke-width="0.35">AUTO COURT</text>
<line x1="317" y1="2797" x2="498" y2="2797" stroke="#222" stroke-width="2.25"/>
<rect x="197" y="1600" width="135" height="180" fill="none" stroke="#555" stroke-width="2" rx="0" stroke-dasharray="5 3"/>
<rect x="220" y="1622" width="112" height="135" fill="none" stroke="#555" stroke-width="2" rx="0" stroke-dasharray="5 3"/>
<rect x="242" y="1645" width="90" height="90" fill="none" stroke="#555" stroke-width="2" rx="0" stroke-dasharray="5 3"/>
<path d="M510 1420 H395 A108 110 0 0 0 287 1530 V1822" stroke="#2a2a2a" stroke-width="2.25" fill="none" stroke-dasharray="10 6" />
<line x1="450" y1="1421" x2="502" y2="1421" stroke="#2a2a2a" stroke-width="2.25" stroke-dasharray="10 6"/>
<path d="M786.2 1538 V1556.6 A91.7 91.7 0 0 1 694.5 1648.3" stroke="#000" stroke-width="11.5" fill="none" />
<line x1="723.2" y1="1478" x2="723.2" y2="1641" stroke="#2a2a2a" stroke-width="2.5"/>
<line x1="695" y1="1479" x2="695" y2="1647" stroke="#2a2a2a" stroke-width="1.875"/>
<line x1="787" y1="1536" x2="847" y2="1536" stroke="#222" stroke-width="3.125"/>
<path d="M791 1479 A56 56 0 0 1 847 1535" stroke="#222" stroke-width="2.5" fill="none" />
<line x1="627" y1="1720" x2="692" y2="1720" stroke="#222" stroke-width="3.125"/>
<path d="M627 1720 A65 65 0 0 1 692 1657" stroke="#222" stroke-width="2.5" fill="none" />
<line x1="712" y1="1672" x2="712" y2="1727" stroke="#222" stroke-width="3.125"/>
<path d="M712 1672 A57 57 0 0 1 770 1728" stroke="#222" stroke-width="2.5" fill="none" />
<rect x="692" y="1725" width="20" height="11" fill="#000"/>
<rect x="770" y="1727" width="22" height="13" fill="#000"/>
<rect x="781" y="1727" width="11" height="99" fill="#000"/>
<rect x="685" y="1814" width="114" height="12" fill="#000"/>
<rect x="859" y="1814" width="117" height="12" fill="#000"/>
<line x1="695" y1="1792" x2="781" y2="1792" stroke="#2a2a2a" stroke-width="2.25"/>
<line x1="695" y1="1802" x2="781" y2="1802" stroke="#2a2a2a" stroke-width="2.25"/>
<line x1="799" y1="1755" x2="799" y2="1815" stroke="#2a2a2a" stroke-width="2.25"/>
<line x1="799" y1="1815" x2="859" y2="1815" stroke="#2a2a2a" stroke-width="2.25"/>
<line x1="799" y1="1825" x2="859" y2="1825" stroke="#2a2a2a" stroke-width="2.25"/>
<path d="M827 1764 L866 1811" stroke="#111" stroke-width="4.5" fill="none" />
<path d="M799 1756 Q815 1752 830 1764 Q850 1754 868 1752" stroke="#2a2a2a" stroke-width="2.5" fill="none" />
<rect x="962" y="1637" width="14" height="323" fill="#000"/>
<rect x="945" y="1637" width="75" height="13" fill="#000"/>
<rect x="962" y="1637" width="59" height="66" fill="#000"/>
<rect x="975.5" y="1657.5" width="33.5" height="30.5" fill="#fff"/>
<path d="M870 1752 V1741 A101 101 0 0 1 971 1640.5" stroke="#000" stroke-width="10.5" fill="none" />
<path d="M862 1750 L850 1752" stroke="#2a2a2a" stroke-width="2.5" fill="none" />
<line x1="932" y1="1650" x2="932" y2="1814" stroke="#2a2a2a" stroke-width="2.25" stroke-dasharray="10 3"/>
<rect x="962" y="1947" width="58" height="13" fill="#000"/>
<rect x="1009" y="1947" width="12" height="25" fill="#000"/>
<line x1="1006" y1="1972" x2="1006" y2="2017" stroke="#2a2a2a" stroke-width="2.5"/>
<line x1="1019" y1="1972" x2="1019" y2="2017" stroke="#2a2a2a" stroke-width="2.5"/>
<rect x="1005" y="2017" width="15" height="14" fill="#000"/>
<line x1="1020" y1="2018" x2="1277" y2="2018" stroke="#2a2a2a" stroke-width="2.5"/>
<line x1="1020" y1="2030" x2="1277" y2="2030" stroke="#2a2a2a" stroke-width="2.5"/>
<rect x="1065" y="2017" width="11" height="14" fill="#000"/>
<rect x="1210" y="2017" width="12" height="14" fill="#000"/>
<rect x="1266" y="2017" width="13" height="14" fill="#000"/>
<text x="1100" y="1820.5" font-size="24.64" textLength="87" lengthAdjust="spacingAndGlyphs" stroke="#222" stroke-width="0.35">DINING</text>
<line x1="1097" y1="1824" x2="1190" y2="1824" stroke="#222" stroke-width="2.25"/>
<text x="1069" y="1849.5" font-size="24.64" textLength="153" lengthAdjust="spacingAndGlyphs" stroke="#222" stroke-width="0.35">15-0 X 18-6</text>
<path d="M1265 1644 H1283 Q1321 1650 1323.5 1688 V1703 H1265 Z" fill="#000"/>
<path d="M1278 1657.5 H1286 Q1308 1663 1311 1688 H1278 Z" fill="#fff"/>
<path d="M1664 1567 H1493.5 A77.5 78 0 0 0 1493.5 1723 " stroke="#2a2a2a" stroke-width="2.5" fill="none" stroke-dasharray="12 6" />
<text x="1506" y="1650.5" font-size="24.64" textLength="94" lengthAdjust="spacingAndGlyphs" stroke="#222" stroke-width="0.35">FOYER</text>
<line x1="1503" y1="1654" x2="1603" y2="1654" stroke="#222" stroke-width="2.25"/>
<text x="1646" y="1554.5" font-size="20.16" textLength="30" lengthAdjust="spacingAndGlyphs" stroke="#222" stroke-width="0.35">UP</text>
<line x1="1347" y1="1747" x2="1347" y2="1815" stroke="#222" stroke-width="3.6"/>
<path d="M1347 1747 A65 67 0 0 1 1412 1813" stroke="#222" stroke-width="2.5" fill="none" />
<line x1="1480.5" y1="1741" x2="1480.5" y2="1797" stroke="#222" stroke-width="3.6"/>
<path d="M1480 1741 A66 72 0 0 0 1413 1813" stroke="#222" stroke-width="2.5" fill="none" />
<path d="M1474 1745 Q1448 1752 1440 1778" stroke="#2a2a2a" stroke-width="2.5" fill="none" />
<line x1="1435" y1="1796.5" x2="1491" y2="1796.5" stroke="#222" stroke-width="3.75"/>
<line x1="1345" y1="1816" x2="1481" y2="1816" stroke="#2a2a2a" stroke-width="2.5"/>
<line x1="1345" y1="1829" x2="1481" y2="1829" stroke="#2a2a2a" stroke-width="2.5"/>
<line x1="1412" y1="1815" x2="1412" y2="1830" stroke="#2a2a2a" stroke-width="2.25"/>
<rect x="1490" y="1723.5" width="121" height="9" fill="#000"/>
<rect x="1490" y="1723.5" width="10" height="18.5" fill="#000"/>
<rect x="1480.5" y="1813" width="133" height="13" fill="#000"/>
<rect x="1480.5" y="1796" width="19.5" height="30" fill="#000"/>
<rect x="1483" y="1799" width="8" height="12" fill="#fff"/>
<path d="M1612 1819.5 Q1640 1818 1658 1808" stroke="#000" stroke-width="12.5" fill="none" />
<line x1="1479" y1="1743" x2="1479" y2="1796" stroke="#2a2a2a" stroke-width="2.25"/>
<line x1="1500" y1="1732" x2="1500" y2="1813" stroke="#2a2a2a" stroke-width="2.25" stroke-dasharray="9 4"/>
<line x1="1518" y1="1732" x2="1518" y2="1813" stroke="#2a2a2a" stroke-width="2.25" stroke-dasharray="9 4"/>
<line x1="1536.5" y1="1732" x2="1536.5" y2="1813" stroke="#2a2a2a" stroke-width="2.25" stroke-dasharray="9 4"/>
<line x1="1555" y1="1732" x2="1555" y2="1813" stroke="#2a2a2a" stroke-width="2.25" stroke-dasharray="9 4"/>
<line x1="1574.5" y1="1732" x2="1574.5" y2="1813" stroke="#2a2a2a" stroke-width="2.25" stroke-dasharray="9 4"/>
<line x1="1592.5" y1="1732" x2="1592.5" y2="1813" stroke="#2a2a2a" stroke-width="2.25" stroke-dasharray="9 4"/>
<line x1="1611" y1="1732" x2="1611" y2="1813" stroke="#2a2a2a" stroke-width="2.25" stroke-dasharray="9 4"/>
<path d="M1647 1592 A76.4 76.4 0 0 1 1607 1727" stroke="#222" stroke-width="3" fill="none" />
<path d="M1650 1589 A80 80 0 0 1 1611 1731" stroke="#2a2a2a" stroke-width="1.75" fill="none" />
<path d="M1683.5 1555.5 Q1708.5 1597.5 1717 1642.5 Q1717 1692 1678 1743 Q1660 1762 1641.5 1774" stroke="#2a2a2a" stroke-width="2.25" fill="none" stroke-dasharray="12 3" />
<line x1="1647.14" y1="1591.97" x2="1710.12" y2="1528.99" stroke="#2a2a2a" stroke-width="2.25" stroke-dasharray="12 3"/>
<line x1="1661.13" y1="1597.56" x2="1731.11" y2="1552.78" stroke="#2a2a2a" stroke-width="2.25" stroke-dasharray="12 3"/>
<line x1="1669.53" y1="1611.56" x2="1745.11" y2="1583.57" stroke="#2a2a2a" stroke-width="2.25" stroke-dasharray="12 3"/>
<line x1="1675.13" y1="1628.36" x2="1756.31" y2="1614.36" stroke="#2a2a2a" stroke-width="2.25" stroke-dasharray="12 3"/>
<line x1="1676.53" y1="1645.15" x2="1759.1" y2="1647.95" stroke="#2a2a2a" stroke-width="2.25" stroke-dasharray="12 3"/>
<line x1="1677.93" y1="1661.95" x2="1756.31" y2="1678.74" stroke="#2a2a2a" stroke-width="2.25" stroke-dasharray="12 3"/>
<line x1="1672.33" y1="1678.74" x2="1747.91" y2="1706.73" stroke="#2a2a2a" stroke-width="2.25" stroke-dasharray="12 3"/>
<line x1="1663.93" y1="1695.54" x2="1731.11" y2="1734.72" stroke="#2a2a2a" stroke-width="2.25" stroke-dasharray="12 3"/>
<line x1="1652.74" y1="1706.73" x2="1708.72" y2="1765.51" stroke="#2a2a2a" stroke-width="2.25" stroke-dasharray="12 3"/>
<line x1="1640.14" y1="1717.93" x2="1683.53" y2="1782.31" stroke="#2a2a2a" stroke-width="2.25" stroke-dasharray="12 3"/>
<line x1="1626.14" y1="1723.53" x2="1655.54" y2="1799.1" stroke="#2a2a2a" stroke-width="2.25" stroke-dasharray="12 3"/>
<line x1="1610.75" y1="1729.13" x2="1635.94" y2="1804.7" stroke="#2a2a2a" stroke-width="2.25" stroke-dasharray="12 3"/>
<path d="M1773 1631 L1774.5 1676 L1764.7 1704 L1725.5 1771 L1664 1816" stroke="#2a2a2a" stroke-width="2.5" fill="none" />
<path d="M1760.5 1631 L1759 1676 L1753.5 1701 L1715.7 1765.5 L1655.5 1806" stroke="#2a2a2a" stroke-width="2.5" fill="none" />
<polygon points="1753.5,1697 1765,1695.5 1765,1709.5 1753,1709" fill="#000"/>
<polygon points="1712,1763 1722,1760 1727,1772 1716,1776" fill="#000"/>
<line x1="1655.5" y1="1806" x2="1664" y2="1816" stroke="#2a2a2a" stroke-width="2.5"/>
<path d="M1613 1765 q8 -6 14 0 M1632 1748 l10 26 M1628 1768 l14 -10" stroke="#2a2a2a" stroke-width="2.5" fill="none" />
<rect x="1311" y="1814" width="14" height="136" fill="#000"/>
<rect x="1311" y="1814" width="35" height="12" fill="#000"/>
<rect x="1277" y="1947" width="45" height="149" fill="#000"/>
<rect x="1289" y="1959" width="21" height="125" fill="#fff"/>
<rect x="1503" y="2005" width="46" height="91" fill="#000"/>
<rect x="1515" y="2017" width="22" height="67" fill="#fff"/>
<line x1="1503" y1="1826" x2="1503" y2="2005" stroke="#2a2a2a" stroke-width="2.25" stroke-dasharray="12 3"/>
<line x1="1549" y1="1826" x2="1549" y2="2005" stroke="#2a2a2a" stroke-width="2.25" stroke-dasharray="12 3"/>
<text x="1367" y="1968.5" font-size="24.64" textLength="85" lengthAdjust="spacingAndGlyphs" stroke="#222" stroke-width="0.35">ENTRY</text>
<line x1="1364" y1="1972" x2="1455" y2="1972" stroke="#222" stroke-width="2.25"/>
<rect x="1265" y="2105" width="69" height="69" fill="none" stroke="#2a2a2a" stroke-width="2.5" rx="0"/>
<circle cx="1299.5" cy="2139.5" r="22" fill="none" stroke="#2a2a2a" stroke-width="2.5"/>
<rect x="1492" y="2105" width="68" height="69" fill="none" stroke="#2a2a2a" stroke-width="2.5" rx="0"/>
<circle cx="1526" cy="2139.5" r="22" fill="none" stroke="#2a2a2a" stroke-width="2.5"/>
<rect x="1265" y="2332" width="69" height="68" fill="none" stroke="#2a2a2a" stroke-width="2.5" rx="0"/>
<circle cx="1299.5" cy="2366" r="22" fill="none" stroke="#2a2a2a" stroke-width="2.5"/>
<rect x="1492" y="2332" width="68" height="68" fill="none" stroke="#2a2a2a" stroke-width="2.5" rx="0"/>
<circle cx="1526" cy="2366" r="22" fill="none" stroke="#2a2a2a" stroke-width="2.5"/>
<line x1="1334" y1="2117" x2="1492" y2="2117" stroke="#2a2a2a" stroke-width="2.5" stroke-dasharray="14 3"/>
<line x1="1334" y1="2142" x2="1492" y2="2142" stroke="#2a2a2a" stroke-width="2.5" stroke-dasharray="14 3"/>
<line x1="1334" y1="2162" x2="1492" y2="2162" stroke="#2a2a2a" stroke-width="2.5" stroke-dasharray="14 3"/>
<line x1="1412" y1="2117" x2="1412" y2="2160" stroke="#2a2a2a" stroke-width="2.25" stroke-dasharray="6 3"/>
<path d="M1403 2152 Q1412 2166 1421 2152" stroke="#222" stroke-width="2.75" fill="none" />
<text x="1395" y="2108.5" font-size="20.16" textLength="35" lengthAdjust="spacingAndGlyphs" stroke="#222" stroke-width="0.35">DN</text>
<line x1="1277" y1="2174" x2="1277" y2="2332" stroke="#2a2a2a" stroke-width="2.25" stroke-dasharray="12 3"/>
<line x1="1322" y1="2174" x2="1322" y2="2332" stroke="#2a2a2a" stroke-width="2.25" stroke-dasharray="12 3"/>
<line x1="1503" y1="2174" x2="1503" y2="2332" stroke="#2a2a2a" stroke-width="2.25" stroke-dasharray="12 3"/>
<line x1="1549" y1="2174" x2="1549" y2="2332" stroke="#2a2a2a" stroke-width="2.25" stroke-dasharray="12 3"/>
<line x1="1334" y1="2342" x2="1492" y2="2342" stroke="#2a2a2a" stroke-width="2.5"/>
<line x1="1334" y1="2387" x2="1492" y2="2387" stroke="#2a2a2a" stroke-width="2.5"/>
<line x1="1290" y1="2096" x2="1310" y2="2096" stroke="#2a2a2a" stroke-width="2"/>
<text x="729" y="1867.5" font-size="24.64" textLength="196" lengthAdjust="spacingAndGlyphs" stroke="#222" stroke-width="0.35">COV'D PORCH</text>
<line x1="726" y1="1871" x2="928" y2="1871" stroke="#222" stroke-width="2.25"/>
<line x1="695" y1="1916" x2="963" y2="1916" stroke="#2a2a2a" stroke-width="2.5"/>
<line x1="765.5" y1="1937" x2="765.5" y2="2566" stroke="#2a2a2a" stroke-width="3" stroke-dasharray="9 3"/>
<line x1="777" y1="1937" x2="777" y2="2566" stroke="#2a2a2a" stroke-width="3" stroke-dasharray="9 3"/>
<line x1="877.5" y1="1937" x2="877.5" y2="2566" stroke="#2a2a2a" stroke-width="3" stroke-dasharray="9 3"/>
<line x1="890" y1="1937" x2="890" y2="2566" stroke="#2a2a2a" stroke-width="3" stroke-dasharray="9 3"/>
<rect x="794" y="1963.5" width="69" height="114.5" fill="none" stroke="#2a2a2a" stroke-width="3.25" rx="0" stroke-dasharray="10 3"/>
<rect x="794" y="2089.5" width="69" height="102.5" fill="none" stroke="#2a2a2a" stroke-width="3.25" rx="0" stroke-dasharray="10 3"/>
<rect x="794" y="2201.5" width="69" height="101.5" fill="none" stroke="#2a2a2a" stroke-width="3.25" rx="0" stroke-dasharray="10 3"/>
<rect x="794" y="2314" width="69" height="101" fill="none" stroke="#2a2a2a" stroke-width="3.25" rx="0" stroke-dasharray="10 3"/>
<rect x="794" y="2426" width="69" height="102" fill="none" stroke="#2a2a2a" stroke-width="3.25" rx="0" stroke-dasharray="10 3"/>
<rect x="794" y="2540" width="69" height="107" fill="none" stroke="#2a2a2a" stroke-width="3.25" rx="0" stroke-dasharray="10 3"/>
<line x1="736" y1="1955.5" x2="921" y2="1955.5" stroke="#444" stroke-width="2.375" stroke-dasharray="7 4"/>
<line x1="736" y1="1962.5" x2="921" y2="1962.5" stroke="#444" stroke-width="2.375" stroke-dasharray="6 3"/>
<line x1="736" y1="2000.5" x2="921" y2="2000.5" stroke="#444" stroke-width="2.375" stroke-dasharray="7 4"/>
<line x1="736" y1="2007.5" x2="921" y2="2007.5" stroke="#444" stroke-width="2.375" stroke-dasharray="6 3"/>
<line x1="736" y1="2045.5" x2="921" y2="2045.5" stroke="#444" stroke-width="2.375" stroke-dasharray="7 4"/>
<line x1="736" y1="2052.5" x2="921" y2="2052.5" stroke="#444" stroke-width="2.375" stroke-dasharray="6 3"/>
<line x1="736" y1="2090.5" x2="921" y2="2090.5" stroke="#444" stroke-width="2.375" stroke-dasharray="7 4"/>
<line x1="736" y1="2097.5" x2="921" y2="2097.5" stroke="#444" stroke-width="2.375" stroke-dasharray="6 3"/>
<line x1="736" y1="2135.5" x2="921" y2="2135.5" stroke="#444" stroke-width="2.375" stroke-dasharray="7 4"/>
<line x1="736" y1="2142.5" x2="921" y2="2142.5" stroke="#444" stroke-width="2.375" stroke-dasharray="6 3"/>
<line x1="736" y1="2180.5" x2="921" y2="2180.5" stroke="#444" stroke-width="2.375" stroke-dasharray="7 4"/>
<line x1="736" y1="2187.5" x2="921" y2="2187.5" stroke="#444" stroke-width="2.375" stroke-dasharray="6 3"/>
<line x1="736" y1="2225.5" x2="921" y2="2225.5" stroke="#444" stroke-width="2.375" stroke-dasharray="7 4"/>
<line x1="736" y1="2232.5" x2="921" y2="2232.5" stroke="#444" stroke-width="2.375" stroke-dasharray="6 3"/>
<line x1="736" y1="2271.5" x2="921" y2="2271.5" stroke="#444" stroke-width="2.375" stroke-dasharray="7 4"/>
<line x1="736" y1="2278.5" x2="921" y2="2278.5" stroke="#444" stroke-width="2.375" stroke-dasharray="6 3"/>
<line x1="736" y1="2316.5" x2="921" y2="2316.5" stroke="#444" stroke-width="2.375" stroke-dasharray="7 4"/>
<line x1="736" y1="2323.5" x2="921" y2="2323.5" stroke="#444" stroke-width="2.375" stroke-dasharray="6 3"/>
<line x1="736" y1="2361.5" x2="921" y2="2361.5" stroke="#444" stroke-width="2.375" stroke-dasharray="7 4"/>
<line x1="736" y1="2368.5" x2="921" y2="2368.5" stroke="#444" stroke-width="2.375" stroke-dasharray="6 3"/>
<line x1="736" y1="2406.5" x2="921" y2="2406.5" stroke="#444" stroke-width="2.375" stroke-dasharray="7 4"/>
<line x1="736" y1="2413.5" x2="921" y2="2413.5" stroke="#444" stroke-width="2.375" stroke-dasharray="6 3"/>
<line x1="736" y1="2450.5" x2="921" y2="2450.5" stroke="#444" stroke-width="2.375" stroke-dasharray="7 4"/>
<line x1="736" y1="2457.5" x2="921" y2="2457.5" stroke="#444" stroke-width="2.375" stroke-dasharray="6 3"/>
<line x1="736" y1="2496.5" x2="921" y2="2496.5" stroke="#444" stroke-width="2.375" stroke-dasharray="7 4"/>
<line x1="736" y1="2503.5" x2="921" y2="2503.5" stroke="#444" stroke-width="2.375" stroke-dasharray="6 3"/>
<line x1="736" y1="2541.5" x2="921" y2="2541.5" stroke="#444" stroke-width="2.375" stroke-dasharray="7 4"/>
<line x1="736" y1="2548.5" x2="921" y2="2548.5" stroke="#444" stroke-width="2.375" stroke-dasharray="6 3"/>
<line x1="736" y1="2586.5" x2="921" y2="2586.5" stroke="#444" stroke-width="2.375" stroke-dasharray="7 4"/>
<line x1="736" y1="2593.5" x2="921" y2="2593.5" stroke="#444" stroke-width="2.375" stroke-dasharray="6 3"/>
<line x1="765.5" y1="3018" x2="765.5" y2="3309" stroke="#2a2a2a" stroke-width="3" stroke-dasharray="9 3"/>
<line x1="777" y1="3018" x2="777" y2="3309" stroke="#2a2a2a" stroke-width="3" stroke-dasharray="9 3"/>
<line x1="877.5" y1="3018" x2="877.5" y2="3309" stroke="#2a2a2a" stroke-width="3" stroke-dasharray="9 3"/>
<line x1="890" y1="3018" x2="890" y2="3309" stroke="#2a2a2a" stroke-width="3" stroke-dasharray="9 3"/>
<rect x="794" y="2938" width="69" height="106" fill="none" stroke="#2a2a2a" stroke-width="3.25" rx="0" stroke-dasharray="10 3"/>
<rect x="794" y="3055.5" width="69" height="104.5" fill="none" stroke="#2a2a2a" stroke-width="3.25" rx="0" stroke-dasharray="10 3"/>
<rect x="794" y="3172" width="69" height="126" fill="none" stroke="#2a2a2a" stroke-width="3.25" rx="0" stroke-dasharray="10 3"/>
<line x1="736" y1="2993.5" x2="921" y2="2993.5" stroke="#444" stroke-width="2.375" stroke-dasharray="7 4"/>
<line x1="736" y1="3000.5" x2="921" y2="3000.5" stroke="#444" stroke-width="2.375" stroke-dasharray="6 3"/>
<line x1="736" y1="3035.5" x2="921" y2="3035.5" stroke="#444" stroke-width="2.375" stroke-dasharray="7 4"/>
<line x1="736" y1="3042.5" x2="921" y2="3042.5" stroke="#444" stroke-width="2.375" stroke-dasharray="6 3"/>
<line x1="736" y1="3080" x2="921" y2="3080" stroke="#444" stroke-width="2.375" stroke-dasharray="7 4"/>
<line x1="736" y1="3087" x2="921" y2="3087" stroke="#444" stroke-width="2.375" stroke-dasharray="6 3"/>
<line x1="736" y1="3124.5" x2="921" y2="3124.5" stroke="#444" stroke-width="2.375" stroke-dasharray="7 4"/>
<line x1="736" y1="3131.5" x2="921" y2="3131.5" stroke="#444" stroke-width="2.375" stroke-dasharray="6 3"/>
<line x1="736" y1="3168.5" x2="921" y2="3168.5" stroke="#444" stroke-width="2.375" stroke-dasharray="7 4"/>
<line x1="736" y1="3175.5" x2="921" y2="3175.5" stroke="#444" stroke-width="2.375" stroke-dasharray="6 3"/>
<line x1="736" y1="3215.5" x2="921" y2="3215.5" stroke="#444" stroke-width="2.375" stroke-dasharray="7 4"/>
<line x1="736" y1="3222.5" x2="921" y2="3222.5" stroke="#444" stroke-width="2.375" stroke-dasharray="6 3"/>
<line x1="736" y1="3260.5" x2="921" y2="3260.5" stroke="#444" stroke-width="2.375" stroke-dasharray="7 4"/>
<line x1="736" y1="3267.5" x2="921" y2="3267.5" stroke="#444" stroke-width="2.375" stroke-dasharray="6 3"/>
<rect x="759" y="1892" width="26" height="45" fill="#000"/>
<rect x="872.5" y="1892" width="24.5" height="45" fill="#000"/>
<rect x="759" y="2116" width="26" height="46" fill="#000"/>
<rect x="872.5" y="2116" width="24.5" height="46" fill="#000"/>
<rect x="759" y="2341" width="26" height="47" fill="#000"/>
<rect x="872.5" y="2341" width="24.5" height="47" fill="#000"/>
<rect x="759" y="3198" width="26" height="44" fill="#000"/>
<rect x="872.5" y="3198" width="24.5" height="44" fill="#000"/>
<rect x="760" y="2566" width="24" height="91" fill="#000"/>
<rect x="691" y="2612" width="93" height="45" fill="#000"/>
<rect x="704" y="2625" width="67" height="21" fill="#fff"/>
<rect x="872" y="2566" width="24" height="91" fill="#000"/>
<rect x="872" y="2612" width="92" height="45" fill="#000"/>
<rect x="884.5" y="2625" width="67.5" height="21" fill="#fff"/>
<line x1="784" y1="2657" x2="872" y2="2657" stroke="#2a2a2a" stroke-width="2.5"/>
<rect x="760" y="2927" width="24" height="91" fill="#000"/>
<rect x="691" y="2927" width="93" height="46" fill="#000"/>
<rect x="704" y="2939" width="67" height="21" fill="#fff"/>
<rect x="872" y="2927" width="24.5" height="91" fill="#000"/>
<rect x="872" y="2927" width="92" height="46" fill="#000"/>
<rect x="884.5" y="2939" width="67.5" height="21" fill="#fff"/>
<line x1="784" y1="2928" x2="872" y2="2928" stroke="#2a2a2a" stroke-width="2.5"/>
<text x="711" y="2800.5" font-size="25.76" textLength="235" lengthAdjust="spacingAndGlyphs" stroke="#222" stroke-width="0.35">PORTE COCHERE</text>
<line x1="708" y1="2804" x2="949" y2="2804" stroke="#222" stroke-width="2.25"/>
<text x="746" y="2830.5" font-size="25.76" textLength="162" lengthAdjust="spacingAndGlyphs" stroke="#222" stroke-width="0.35">12-0 X 12-0</text>
<rect x="152" y="3219" width="68" height="13" fill="#000"/>
<rect x="625" y="3219" width="70" height="13" fill="#000"/>
<rect x="152" y="3219" width="10" height="542" fill="#000"/>
<line x1="220" y1="3232" x2="625" y2="3232" stroke="#777" stroke-width="2" stroke-dasharray="3 4"/>
<rect x="685" y="3219" width="10" height="103" fill="#000"/>
<rect x="685" y="3309" width="113" height="13" fill="#000"/>
<rect x="859" y="3309" width="105" height="13" fill="#000"/>
<rect x="952" y="3309" width="12" height="59" fill="#000"/>
<rect x="952" y="3355" width="22" height="13" fill="#000"/>
<rect x="952" y="3612" width="12" height="58" fill="#000"/>
<rect x="952" y="3612" width="22" height="13" fill="#000"/>
<rect x="680" y="3657" width="284" height="13" fill="#000"/>
<rect x="680" y="3657" width="15" height="104" fill="#000"/>
<rect x="597" y="3747" width="98" height="14" fill="#000"/>
<rect x="152" y="3747" width="98" height="14" fill="#000"/>
<rect x="242" y="3747" width="10" height="59" fill="#000"/>
<rect x="242" y="3795" width="363" height="11" fill="#000"/>
<rect x="595" y="3747" width="10" height="59" fill="#000"/>
<line x1="250" y1="3748" x2="597" y2="3748" stroke="#555" stroke-width="2.25" stroke-dasharray="6 3"/>
<line x1="857" y1="3322" x2="857" y2="3382" stroke="#222" stroke-width="3.75"/>
<path d="M798 3322 A60 60 0 0 0 857 3382" stroke="#222" stroke-width="2.5" fill="none" />
<line x1="798" y1="3310" x2="859" y2="3310" stroke="#2a2a2a" stroke-width="2.25"/>
<line x1="798" y1="3319" x2="859" y2="3319" stroke="#2a2a2a" stroke-width="2.25"/>
<path d="M964 3310 H1032 V3668 H964" stroke="#555" stroke-width="2.25" fill="none" stroke-dasharray="8 4" />
<path d="M974 3355 V3625" stroke="#2a2a2a" stroke-width="2.25" fill="none" stroke-dasharray="10 3" />
<line x1="974" y1="3352" x2="1020" y2="3352" stroke="#2a2a2a" stroke-width="2.25" stroke-dasharray="10 3"/>
<line x1="974" y1="3366" x2="1020" y2="3366" stroke="#2a2a2a" stroke-width="2.25" stroke-dasharray="10 3"/>
<line x1="974" y1="3613" x2="1020" y2="3613" stroke="#2a2a2a" stroke-width="2.25"/>
<line x1="974" y1="3626" x2="1020" y2="3626" stroke="#2a2a2a" stroke-width="2.25"/>
<line x1="1021" y1="3355" x2="1021" y2="3625" stroke="#2a2a2a" stroke-width="2.5"/>
<line x1="1035" y1="3355" x2="1035" y2="3625" stroke="#2a2a2a" stroke-width="2.5"/>
<rect x="1020" y="3355" width="15" height="11" fill="#000"/>
<rect x="1020" y="3410" width="15" height="12" fill="#000"/>
<rect x="1020" y="3555" width="15" height="12" fill="#000"/>
<rect x="1020" y="3612" width="15" height="13" fill="#000"/>
<text x="784" y="3516.5" font-size="24.64" textLength="73" lengthAdjust="spacingAndGlyphs" stroke="#222" stroke-width="0.35">SHOP</text>
<line x1="781" y1="3520" x2="860" y2="3520" stroke="#222" stroke-width="2.25"/>
<text x="743" y="3546.5" font-size="24.64" textLength="158" lengthAdjust="spacingAndGlyphs" stroke="#222" stroke-width="0.35">14-6 X 15-0</text>
<text x="290" y="3514.5" font-size="24.64" textLength="224" lengthAdjust="spacingAndGlyphs" stroke="#222" stroke-width="0.35">2-CAR GARAGE</text>
<line x1="287" y1="3518" x2="517" y2="3518" stroke="#222" stroke-width="2.25"/>
<text x="306" y="3544.5" font-size="24.64" textLength="176" lengthAdjust="spacingAndGlyphs" stroke="#222" stroke-width="0.35">23-4 X 25-2</text>
</svg>
</body></html>
